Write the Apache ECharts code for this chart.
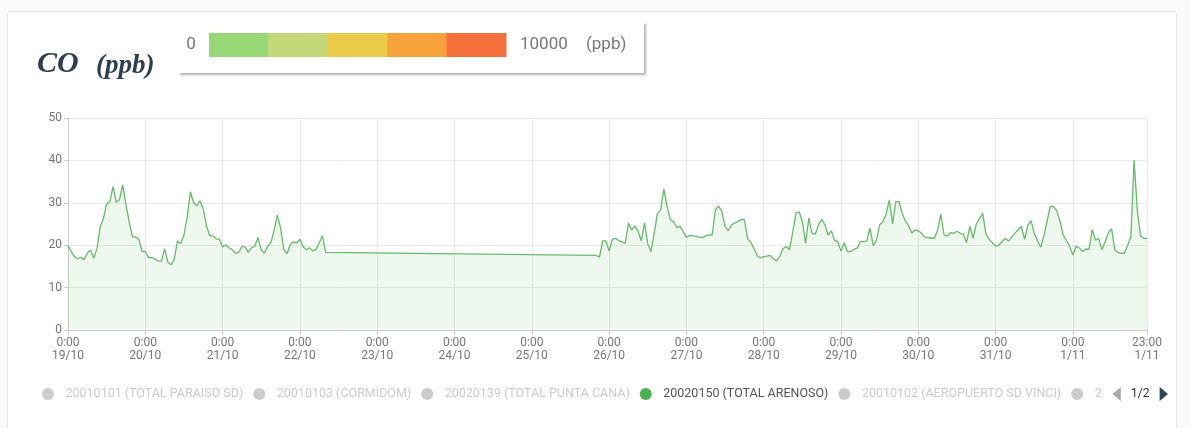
<!DOCTYPE html>
<html>
<head>
<meta charset="utf-8">
<title>CO (ppb)</title>
<script src="https://cdn.jsdelivr.net/npm/echarts@6.0.0/dist/echarts.min.js"></script>
<style>
html, body { margin: 0; padding: 0; width: 1191px; height: 428px; overflow: hidden; background: #fafafa; }
.card { position: absolute; left: 7px; top: 11px; width: 1168px; height: 440px; background: #fff; border: 1px solid #e4e4e4; border-radius: 4px; }
#chart { position: absolute; left: 0; top: 0; width: 1191px; height: 428px; }
</style>
</head>
<body>
<div class="card"></div>
<div id="chart"></div>
<script>
// x axis: one tick per day at 0:00, last tick is 23:00 of the final day
const dayLabels = ['19/10', '20/10', '21/10', '22/10', '23/10', '24/10', '25/10',
  '26/10', '27/10', '28/10', '29/10', '30/10', '31/10', '1/11']

const stations = [
  '20010101 (TOTAL PARAISO SD)',
  '20010103 (CORMIDOM)',
  '20020139 (TOTAL PUNTA CANA)',
  '20020150 (TOTAL ARENOSO)',
  '20010102 (AEROPUERTO SD VINCI)',
  '20010104',
  '20020141'
]
const activeStation = '20020150 (TOTAL ARENOSO)'

// colour scale shown in the header
const scaleColors = ['#98d776', '#c5d879', '#ecca4a', '#f6a33b', '#f6703e']
const scaleMin = '0'
const scaleMax = '10000'
const unit = '(ppb)'

// hourly CO readings, one array per day starting at 0:00 (null = no reading)
const oct19 = [19.9, 18.5, 17.3, 16.8, 17.1, 16.6, 18.1, 18.9, 16.9, 19.3, 24.4, 26.3,
  29.7, 30.3, 33.8, 30.1, 30.8, 34.2, 29.5, 25.5, 22.0, 21.9, 21.4, 18.5]
const oct20 = [18.5, 17.1, 17.1, 16.7, 16.3, 16.2, 19.2, 16.0, 15.4, 16.7, 21.0, 20.4,
  22.4, 26.6, 32.6, 30.0, 29.3, 30.5, 28.5, 24.6, 22.2, 22.2, 21.5, 21.4]
const oct21 = [19.6, 20.1, 19.4, 18.9, 18.1, 18.3, 19.7, 19.6, 18.3, 19.4, 19.8, 21.8,
  18.9, 18.1, 19.8, 20.6, 23.5, 27.1, 24.1, 19.0, 18.0, 20.1, 20.8, 20.5]
const oct22 = [21.4, 19.7, 18.9, 19.4, 18.6, 19.0, 20.6, 22.2, 18.3]
const oct23 = []
const oct24 = []
const oct25 = [null, null, null, null, null, null, null, null, null, null, null, null,
  null, null, null, null, null, null, null, null, 17.6, 17.2, 21.0, 21.0]
const oct26 = [18.6, 21.4, 21.6, 21.1, 20.8, 20.4, 25.2, 23.6, 24.5, 23.3, 21.0, 25.3,
  20.3, 18.5, 22.8, 27.5, 28.4, 33.3, 29.1, 26.0, 25.6, 24.1, 24.5, 23.2]
const oct27 = [21.9, 22.3, 22.2, 22.1, 21.9, 21.8, 22.2, 22.4, 22.4, 28.3, 29.2, 27.9,
  24.4, 23.4, 24.8, 25.2, 25.6, 26.1, 26.0, 21.5, 20.7, 19.2, 17.5, 17.0]
const oct28 = [17.3, 17.4, 17.6, 16.8, 16.3, 17.4, 19.2, 19.7, 18.9, 23.0, 27.5, 27.9,
  25.6, 20.4, 26.4, 22.8, 22.6, 24.8, 26.1, 24.8, 22.4, 23.4, 21.2, 20.8]
const oct29 = [18.6, 20.6, 18.5, 18.5, 19.0, 19.3, 20.8, 20.9, 21.0, 24.0, 19.9, 21.2,
  24.8, 25.5, 27.3, 30.7, 25.0, 30.3, 30.3, 27.5, 25.7, 24.6, 22.9, 23.6]
const oct30 = [23.4, 22.8, 21.9, 21.8, 21.7, 21.6, 23.6, 27.3, 22.4, 22.2, 23.0, 22.8,
  23.3, 22.8, 22.6, 20.6, 24.5, 21.6, 25.0, 26.3, 27.5, 22.6, 21.4, 20.6]
const oct31 = [19.8, 20.0, 20.8, 21.6, 21.0, 21.9, 22.8, 23.7, 24.4, 21.4, 24.7, 25.8,
  22.8, 21.1, 19.5, 22.2, 25.8, 29.2, 29.1, 28.1, 25.6, 22.4, 21.1, 19.7]
const nov1 = [17.7, 19.8, 19.3, 18.5, 19.1, 19.0, 23.7, 21.2, 21.6, 18.9, 20.8, 22.9,
  23.9, 18.9, 18.3, 18.1, 18.1, 20.0, 22.0, 40.1, 28.1, 22.2, 21.6, 21.6]

const days = [oct19, oct20, oct21, oct22, oct23, oct24, oct25,
  oct26, oct27, oct28, oct29, oct30, oct31, nov1]
const hoursTotal = days.length * 24 - 1

// [hour since start, value] pairs; missing hours are skipped so the line joins the gap
const coData = []
days.forEach((vals, d) => {
  vals.forEach((v, h) => {
    if (v !== null) coData.push([d * 24 + h, v])
  })
})

const chart = echarts.init(document.getElementById('chart'))

// header: title and colour scale
const barX = 209
const barW = 59.4
const header = [
  {
    type: 'rect',
    shape: { x: 178, y: 22, width: 466, height: 51 },
    style: { fill: '#fff', shadowBlur: 2, shadowOffsetX: 1.5, shadowOffsetY: 1.5, shadowColor: 'rgba(0,0,0,0.3)' }
  },
  {
    type: 'text',
    style: { text: 'CO', x: 37, y: 64, textVerticalAlign: 'middle', font: 'italic bold 30px "Liberation Serif"', fill: '#2e3d4f' }
  },
  {
    type: 'text',
    style: { text: unit, x: 96, y: 66, textVerticalAlign: 'middle', font: 'italic bold 27px "Liberation Serif"', fill: '#2e3d4f' }
  },
  {
    type: 'text',
    style: { text: scaleMin, x: 191, y: 45, textAlign: 'center', textVerticalAlign: 'middle', font: '17px Roboto', fill: '#777' }
  },
  {
    type: 'text',
    style: { text: scaleMax, x: 520, y: 45, textVerticalAlign: 'middle', font: '17px Roboto', fill: '#777' }
  },
  {
    type: 'text',
    style: { text: unit, x: 586, y: 45, textVerticalAlign: 'middle', font: '17px Roboto', fill: '#777' }
  }
]
scaleColors.forEach((c, i) => {
  header.push({
    type: 'rect',
    shape: { x: barX + i * barW, y: 33, width: barW + 0.5, height: 24 },
    style: { fill: c }
  })
})

const selected = {}
stations.forEach(s => { selected[s] = s === activeStation })

const option = {
  animation: false,
  textStyle: { fontFamily: 'Roboto' },
  graphic: header,
  legend: {
    type: 'scroll',
    left: 37,
    width: 1126,
    top: 382,
    itemWidth: 25,
    itemHeight: 12,
    itemGap: 10,
    icon: 'circle',
    selected: selected,
    inactiveColor: '#ccc',
    textStyle: { fontSize: 12.5, color: '#555' },
    pageIconColor: '#2f4554',
    pageIconInactiveColor: '#aaa',
    pageIconSize: 14,
    pageTextStyle: { color: '#333', fontSize: 12 }
  },
  grid: { left: 68, right: 44, top: 118, bottom: 98 },
  xAxis: {
    type: 'value',
    min: 0,
    max: hoursTotal,
    interval: 24,
    axisLine: { lineStyle: { color: '#ccc' } },
    axisTick: { show: true, length: 4, lineStyle: { color: '#ccc' } },
    axisLabel: {
      color: '#777',
      fontSize: 12,
      lineHeight: 13,
      margin: 6,
      formatter: v => (v % 24) + ':00\n' + dayLabels[Math.floor(v / 24)]
    },
    splitLine: { show: true, lineStyle: { color: '#eaeaea' } }
  },
  yAxis: {
    type: 'value',
    min: 0,
    max: 50,
    interval: 10,
    axisLine: { show: true, lineStyle: { color: '#ccc' } },
    axisTick: { show: true, length: 4, lineStyle: { color: '#ccc' } },
    axisLabel: { color: '#777', fontSize: 12, margin: 6 },
    splitLine: { lineStyle: { color: '#eaeaea' } }
  },
  series: stations.map(name => ({
    name: name,
    type: 'line',
    showSymbol: false,
    symbol: 'circle',
    data: name === activeStation ? coData : [],
    itemStyle: { color: name === activeStation ? '#4caf50' : '#999' },
    lineStyle: { color: '#66bb6a', width: 1.3 },
    areaStyle: { color: 'rgba(102, 187, 106, 0.15)' }
  }))
}

chart.setOption(option)
</script>
</body>
</html>
